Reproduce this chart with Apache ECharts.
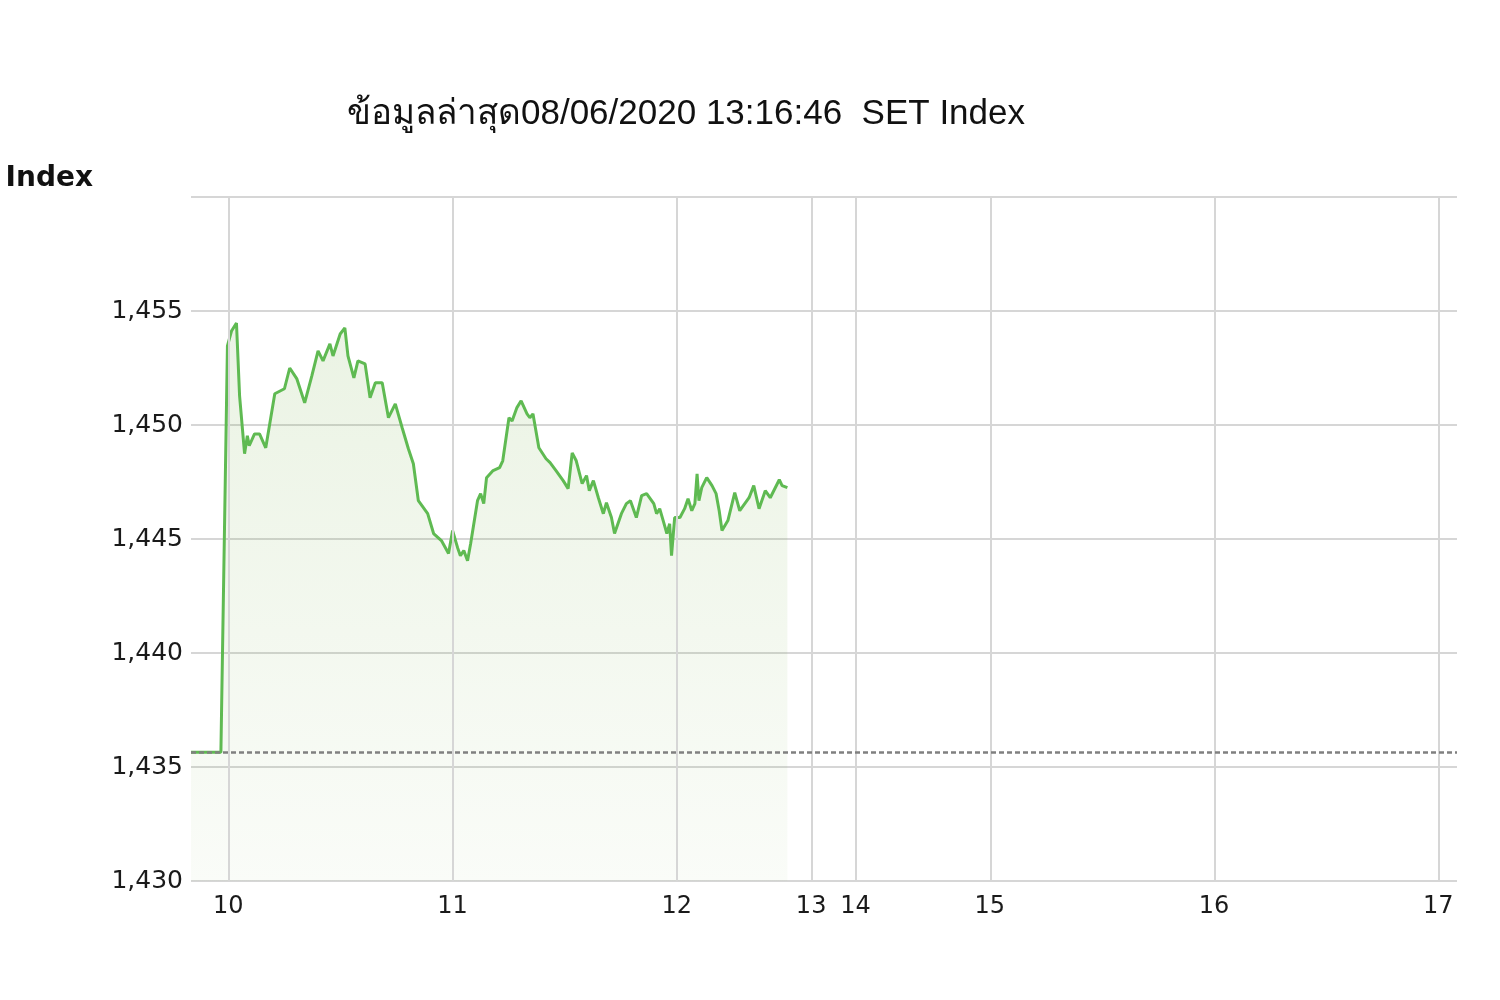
<!DOCTYPE html>
<html><head><meta charset="utf-8">
<script src="https://cdn.jsdelivr.net/npm/echarts@6/dist/echarts.min.js"></script>
<style>html,body{margin:0;padding:0;background:#fff}#c{width:1500px;height:1000px}</style>
</head><body><div id="c"></div>
<script>
const titleText = 'ข้อมูลล่าสุด08/06/2020 13:16:46  SET Index';
const yAxisTitle = 'Index';
const times = [
'09:50:00','09:58:00','09:59:45','10:00:50','10:02:10','10:03:00','10:04:20','10:05:05','10:05:35','10:07:00',
'10:08:20','10:10:00','10:12:25','10:15:00','10:16:25','10:18:20','10:20:25','10:22:20','10:24:00','10:25:20',
'10:27:10','10:28:00','10:29:55','10:31:10','10:32:00','10:33:35','10:34:40','10:36:35','10:37:55','10:39:20',
'10:41:10','10:42:50','10:44:40','10:46:30','10:48:10','10:49:30','10:50:50','10:53:20','10:54:55','10:57:00',
'10:58:55','11:00:00','11:01:20','11:02:05','11:03:00','11:04:00','11:04:50','11:06:40','11:07:30','11:08:20',
'11:09:05','11:10:50','11:12:35','11:13:25','11:15:05','11:15:55','11:17:10','11:18:20','11:19:55','11:20:40',
'11:21:30','11:23:05','11:25:00','11:26:05','11:27:40','11:29:35','11:30:55','11:32:00','11:33:05','11:34:40',
'11:35:50','11:36:35','11:37:40','11:39:00','11:40:20','11:41:10','11:42:30','11:43:20','11:45:10','11:46:30',
'11:47:35','11:49:10','11:50:35','11:51:55','11:53:50','11:54:35','11:55:25','11:56:30','11:57:20','11:58:05',
'11:58:35','11:59:25','12:00:50','12:02:05','12:03:00','12:04:00','12:04:50','12:05:25','12:05:55','12:06:40',
'12:08:00','12:09:25','12:10:30','12:11:20','12:12:05','12:13:40','12:15:30','12:16:50','12:19:20','12:20:35',
'12:22:00','12:23:40','12:25:00','12:27:25','12:28:10','12:29:35'
];
const values = [
1435.65,1435.65,1453.47,1454.12,1454.47,1451.28,1448.74,1449.53,1449.09,1449.61,
1449.61,1449.00,1451.37,1451.59,1452.50,1452.02,1450.97,1452.15,1453.25,1452.81,
1453.56,1453.03,1453.99,1454.26,1453.03,1452.07,1452.81,1452.68,1451.19,1451.85,
1451.85,1450.32,1450.93,1449.88,1448.96,1448.30,1446.68,1446.11,1445.24,1444.93,
1444.36,1445.37,1444.62,1444.27,1444.49,1444.05,1444.80,1446.68,1446.99,1446.55,
1447.69,1448.00,1448.13,1448.43,1450.32,1450.18,1450.75,1451.06,1450.49,1450.32,
1450.49,1449.00,1448.52,1448.35,1448.00,1447.56,1447.21,1448.78,1448.43,1447.43,
1447.78,1447.12,1447.56,1446.81,1446.11,1446.59,1445.94,1445.24,1446.11,1446.55,
1446.68,1445.94,1446.90,1446.99,1446.55,1446.11,1446.33,1445.72,1445.24,1445.67,
1444.27,1445.94,1445.94,1446.33,1446.77,1446.24,1446.55,1447.86,1446.68,1447.25,
1447.69,1447.34,1446.99,1446.24,1445.37,1445.81,1447.03,1446.24,1446.81,1447.34,
1446.33,1447.12,1446.81,1447.60,1447.34,1447.25
];
const prevClose = 1435.65;
const tickHours = [10, 11, 12, 13, 14, 15, 16, 17];
const tickLabels = ['10', '11', '12', '13', '14', '15', '16', '17'];
const yMin = 1430, yMax = 1460, yStep = 5;
const axisStart = '09:50:00', axisEnd = '17:05:00';

// piecewise time scale: lunch break 12:30-14:30 compressed
const LUNCH_START = 12.5, LUNCH_END = 14.5, LUNCH_WIDTH = 0.396;
function toAxis(h) {
  if (h <= LUNCH_START) return h;
  if (h <= LUNCH_END) return LUNCH_START + (h - LUNCH_START) * LUNCH_WIDTH / (LUNCH_END - LUNCH_START);
  return LUNCH_START + LUNCH_WIDTH + (h - LUNCH_END);
}
function parseTime(s) { const p = s.split(':').map(Number); return p[0] + p[1] / 60 + (p[2] || 0) / 3600; }

const seriesData = times.map((t, i) => [toAxis(parseTime(t)), values[i]]);
const tickPos = tickHours.map(toAxis);
const gridColor = '#d6d6d6';

function fmtNum(v) { const s = String(Math.round(v)); return s.replace(/\B(?=(\d{3})+(?!\d))/g, ','); }

const chart = echarts.init(document.getElementById('c'), null, { renderer: 'canvas' });
chart.setOption({
  animation: false,
  backgroundColor: '#fff',
  grid: { left: 191, right: 43, top: 197, bottom: 119, containLabel: false },
  graphic: [
    { type: 'text', x: 686, y: 114, style: { text: titleText, fill: '#111', font: '35px "Liberation Sans", Arial, sans-serif', align: 'center', verticalAlign: 'middle' } },
    { type: 'text', x: 93, y: 179, style: { text: yAxisTitle, fill: '#111', font: 'bold 28px "DejaVu Sans", Verdana, sans-serif', align: 'right', verticalAlign: 'middle' } }
  ],
  xAxis: {
    type: 'value',
    min: toAxis(parseTime(axisStart)),
    max: toAxis(parseTime(axisEnd)),
    axisLine: { show: false },
    axisTick: { show: false },
    splitLine: { show: false },
    axisLabel: {
      customValues: tickPos,
      color: '#1a1a1a', fontSize: 24, fontFamily: 'DejaVu Sans', margin: 14,
      formatter: (v) => { let best = 0; tickPos.forEach((p, i) => { if (Math.abs(p - v) < Math.abs(tickPos[best] - v)) best = i; }); return tickLabels[best]; }
    }
  },
  yAxis: {
    type: 'value', min: yMin, max: yMax, interval: yStep,
    axisLine: { show: false }, axisTick: { show: false },
    splitLine: { show: true, lineStyle: { color: gridColor, width: 2 } },
    axisLabel: { color: '#1a1a1a', fontSize: 25, fontFamily: 'DejaVu Sans', margin: 8, showMaxLabel: false, formatter: fmtNum }
  },
  series: [{
    type: 'line',
    data: seriesData,
    showSymbol: false,
    lineStyle: { color: '#5fba52', width: 3 },
    itemStyle: { color: '#5fba52' },
    areaStyle: {
      origin: 'start',
      color: new echarts.graphic.LinearGradient(0, 0, 0, 1, [
        { offset: 0, color: 'rgba(110,170,60,0.2)' },
        { offset: 1, color: 'rgba(110,170,60,0.05)' }
      ])
    },
    markLine: {
      silent: true, symbol: 'none', label: { show: false },
      data: tickPos.map(p => ({ xAxis: p, lineStyle: { color: gridColor, width: 2, type: 'solid' } }))
        .concat([{ yAxis: prevClose, lineStyle: { color: '#808080', width: 2.5, type: [5, 3] } }])
    }
  }]
});
</script></body></html>
